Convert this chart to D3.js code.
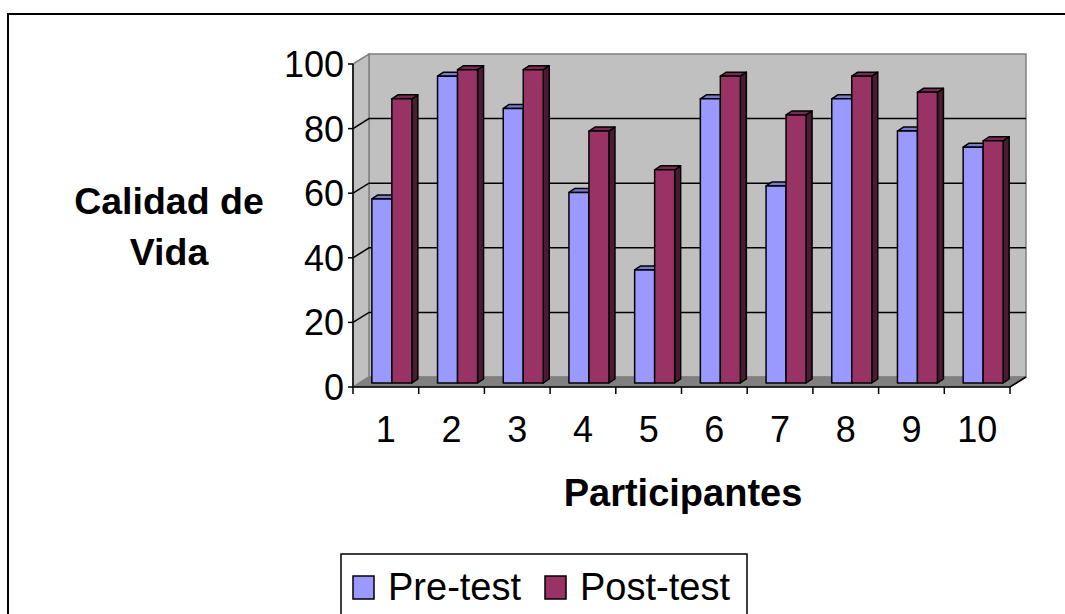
<!DOCTYPE html>
<html><head><meta charset="utf-8">
<script src="https://cdn.jsdelivr.net/npm/d3@7"></script>
<style>html,body{margin:0;padding:0;background:#fff;}svg{display:block;font-family:"Liberation Sans",Arial,sans-serif;}</style>
</head><body>
<script>
const categories = ["1","2","3","4","5","6","7","8","9","10"];
const series = ["Pre-test","Post-test"];
const preTest = [57, 95, 85, 59, 35, 88, 61, 88, 78, 73];
const postTest = [88, 97, 97, 78, 66, 95, 83, 95, 90, 75];
const yTicks = [0, 20, 40, 60, 80, 100];
const yTitle = ["Calidad de", "Vida"];
const xTitle = "Participantes";

const W = 1065, H = 614;
const svg = d3.select("body").append("svg").attr("width", W).attr("height", H);

// 3D layout
const x0 = 353, x1 = 1010, yBase = 387, yTop = 64;
const DX = 16, DY = -10;           // wall depth
const bdx = 6, bdy = -4;           // bar depth
const bShiftX = 6, bShiftY = -4;   // bar position inside the floor

const x = d3.scaleBand().domain(categories).range([x0, x1]).padding(0);
const yF = d3.scaleLinear().domain([0, 100]).range([yBase, yTop]);
const xs = d3.scaleBand().domain(series).range([x.bandwidth()/2 - 20, x.bandwidth()/2 + 20]);

const pt = (a) => a.map(p => p.join(",")).join(" ");

// outer border
svg.append("rect").attr("x", 8).attr("y", 14).attr("width", W + 20).attr("height", H + 20)
  .attr("fill", "none").attr("stroke", "#000").attr("stroke-width", 2);

// back wall
svg.append("polygon").attr("points", pt([[x0+DX, yF(100)+DY],[x1+DX, yF(100)+DY],[x1+DX, yBase+DY],[x0+DX, yBase+DY]]))
  .attr("fill", "#c0c0c0").attr("stroke", "#808080").attr("stroke-width", 1.5);
// side wall
svg.append("polygon").attr("points", pt([[x0, yF(100)],[x0+DX, yF(100)+DY],[x0+DX, yBase+DY],[x0, yBase]]))
  .attr("fill", "#c0c0c0").attr("stroke", "#808080").attr("stroke-width", 1.5);
// floor
svg.append("polygon").attr("points", pt([[x0, yBase],[x0+DX, yBase+DY],[x1+DX, yBase+DY],[x1, yBase]]))
  .attr("fill", "#808080").attr("stroke", "#808080").attr("stroke-width", 1);

// gridlines
yTicks.filter(v => v > 0 && v < 100).forEach(v => {
  svg.append("polyline").attr("points", pt([[x0, yF(v)],[x0+DX, yF(v)+DY],[x1+DX, yF(v)+DY]]))
    .attr("fill", "none").attr("stroke", "#000").attr("stroke-width", 1.5);
});

// y axis
svg.append("line").attr("x1", x0).attr("x2", x0).attr("y1", yF(100)).attr("y2", yBase).attr("stroke", "#000").attr("stroke-width", 1.5);
yTicks.forEach(v => {
  svg.append("line").attr("x1", x0-5).attr("x2", x0).attr("y1", yF(v)).attr("y2", yF(v)).attr("stroke", "#000").attr("stroke-width", 1.5);
  svg.append("text").attr("x", x0 - 9).attr("y", yF(v)).attr("dy", "0.36em").attr("text-anchor", "end")
    .attr("font-size", 36).text(v);
});

// bars
const colors = {
  "Pre-test": {front: "#9999ff", top: "#7a7acc", side: "#4d4d80"},
  "Post-test": {front: "#993366", top: "#7a2952", side: "#4d1a33"}
};
const yB = (v) => yF(v) + bShiftY;
categories.forEach((c, i) => {
  [["Pre-test", preTest[i]], ["Post-test", postTest[i]]].forEach(([s, v]) => {
    const bx = x(c) + xs(s) + bShiftX, bw = xs.bandwidth();
    const yt = yB(v), yb = yB(0);
    const g = svg.append("g").attr("stroke", "#000").attr("stroke-width", 1.5).attr("stroke-linejoin", "round");
    g.append("polygon").attr("points", pt([[bx+bw, yt],[bx+bw+bdx, yt+bdy],[bx+bw+bdx, yb+bdy],[bx+bw, yb]])).attr("fill", colors[s].side);
    g.append("polygon").attr("points", pt([[bx, yt],[bx+bdx, yt+bdy],[bx+bw+bdx, yt+bdy],[bx+bw, yt]])).attr("fill", colors[s].top);
    g.append("rect").attr("x", bx).attr("y", yt).attr("width", bw).attr("height", yb - yt).attr("fill", colors[s].front);
  });
});

// x axis
svg.append("polyline").attr("points", pt([[x0, yBase],[x1, yBase],[x1+DX, yBase+DY]]))
  .attr("fill", "none").attr("stroke", "#000").attr("stroke-width", 1.5);
categories.forEach(c => {
  svg.append("line").attr("x1", x(c)).attr("x2", x(c)).attr("y1", yBase).attr("y2", yBase+7).attr("stroke", "#000").attr("stroke-width", 1.5);
  svg.append("text").attr("x", x(c) + x.bandwidth()/2).attr("y", 442).attr("text-anchor", "middle").attr("font-size", 36).text(c);
});
svg.append("line").attr("x1", x1).attr("x2", x1).attr("y1", yBase).attr("y2", yBase+7).attr("stroke", "#000").attr("stroke-width", 1.5);

// titles
svg.append("text").attr("x", 169).attr("y", 214).attr("text-anchor", "middle").attr("font-size", 37.5).attr("font-weight", "bold").text(yTitle[0]);
svg.append("text").attr("x", 169).attr("y", 265).attr("text-anchor", "middle").attr("font-size", 37.5).attr("font-weight", "bold").text(yTitle[1]);
svg.append("text").attr("x", 683).attr("y", 506).attr("text-anchor", "middle").attr("font-size", 38).attr("font-weight", "bold").text(xTitle);

// legend
const lg = svg.append("g");
lg.append("rect").attr("x", 341).attr("y", 554).attr("width", 406).attr("height", 80).attr("fill", "#fff").attr("stroke", "#000").attr("stroke-width", 1.5);
const legX = [353, 545], legTX = [388, 580];
series.forEach((s, i) => {
  lg.append("rect").attr("x", legX[i]).attr("y", 576).attr("width", 21).attr("height", 23).attr("fill", colors[s].front).attr("stroke", "#000").attr("stroke-width", 1.5);
  lg.append("text").attr("x", legTX[i]).attr("y", 600).attr("font-size", 38).text(s);
});
</script>
</body></html>
